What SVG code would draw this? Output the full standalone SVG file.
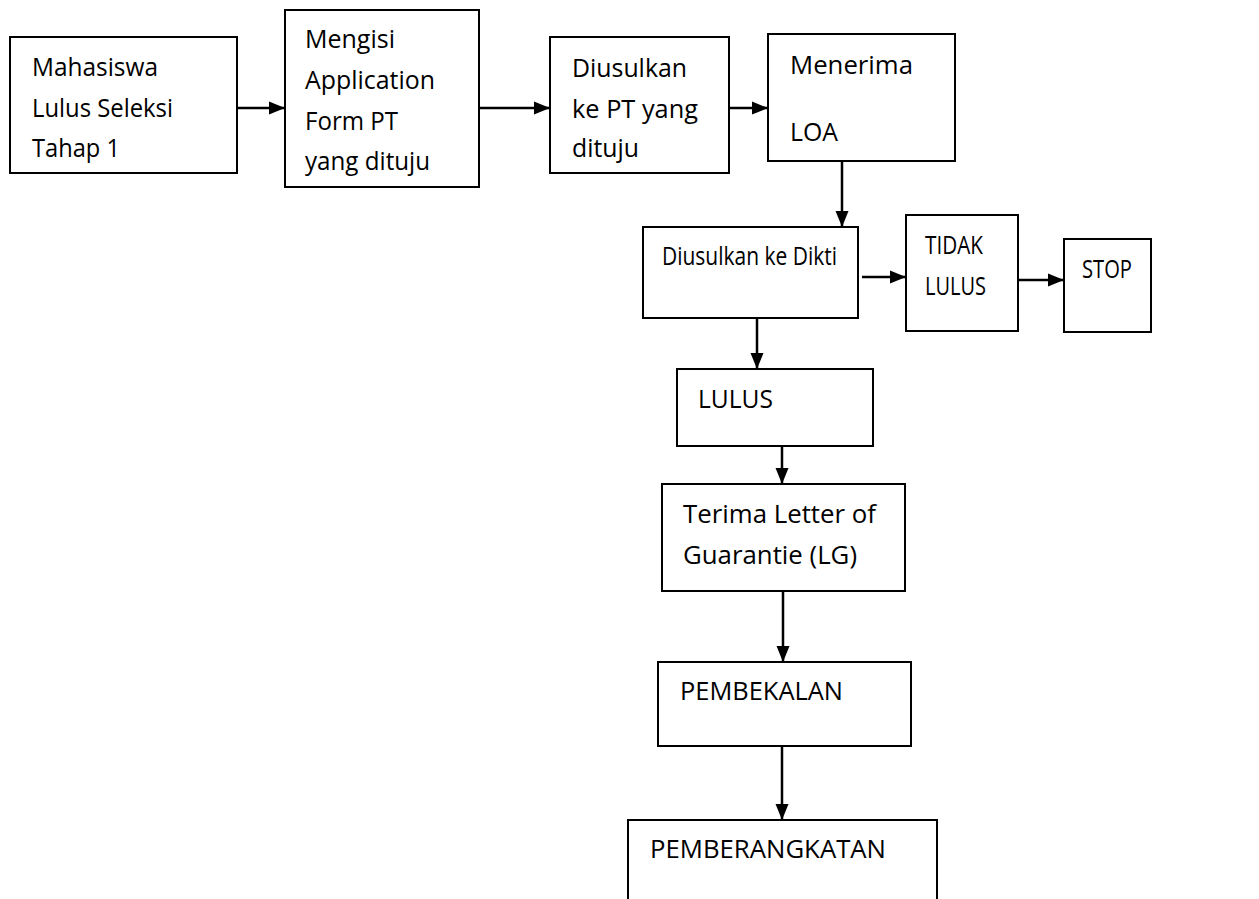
<svg xmlns="http://www.w3.org/2000/svg" width="1259" height="899" viewBox="0 0 1259 899">
<style>
.box{fill:#fff;stroke:#000;stroke-width:2}
.t{font-family:"Open Sans","Liberation Sans",sans-serif;font-size:25px;fill:#000}
.c{stroke:#000;stroke-width:2.5;fill:none;marker-end:url(#ah)}
</style>
<defs>
<marker id="ah" markerUnits="userSpaceOnUse" markerWidth="16" markerHeight="14" viewBox="0 0 16 14" refX="16" refY="7" orient="auto">
<path d="M0,0.5 L16,7 L0,13.5 Z" fill="#000"/>
</marker>
</defs>
<rect width="1259" height="899" fill="#fff"/>
<g id="connectors">
<line class="c" x1="237" y1="108" x2="285" y2="108"/>
<line class="c" x1="479" y1="108" x2="550" y2="108"/>
<line class="c" x1="729" y1="108" x2="768" y2="108"/>
<line class="c" x1="842" y1="161" x2="842" y2="227"/>
<line class="c" x1="862" y1="277" x2="906" y2="277"/>
<line class="c" x1="1018" y1="280" x2="1064" y2="280"/>
<line class="c" x1="757" y1="318" x2="757" y2="369"/>
<line class="c" x1="782" y1="446" x2="782" y2="484"/>
<line class="c" x1="783" y1="591" x2="783" y2="662"/>
<line class="c" x1="782" y1="746" x2="782" y2="820"/>
</g>
<g id="n1"><rect class="box" x="10" y="37" width="227" height="136"/>
<text class="t" x="32" y="76" textLength="126" lengthAdjust="spacingAndGlyphs">Mahasiswa</text><text class="t" x="32" y="117" textLength="141" lengthAdjust="spacingAndGlyphs">Lulus Seleksi</text><text class="t" x="32" y="157" textLength="88" lengthAdjust="spacingAndGlyphs">Tahap 1</text></g>
<g id="n2"><rect class="box" x="285" y="10" width="194" height="177"/>
<text class="t" x="305" y="48" textLength="90" lengthAdjust="spacingAndGlyphs">Mengisi</text><text class="t" x="305" y="89" textLength="130" lengthAdjust="spacingAndGlyphs">Application</text><text class="t" x="305" y="130" textLength="93" lengthAdjust="spacingAndGlyphs">Form PT</text><text class="t" x="305" y="170" textLength="125" lengthAdjust="spacingAndGlyphs">yang dituju</text></g>
<g id="n3"><rect class="box" x="550" y="37" width="179" height="136"/>
<text class="t" x="572" y="77" textLength="115" lengthAdjust="spacingAndGlyphs">Diusulkan</text><text class="t" x="572" y="118" textLength="126" lengthAdjust="spacingAndGlyphs">ke PT yang</text><text class="t" x="572" y="157" textLength="67" lengthAdjust="spacingAndGlyphs">dituju</text></g>
<g id="n4"><rect class="box" x="768" y="34" width="187" height="127"/>
<text class="t" x="790" y="74" textLength="123" lengthAdjust="spacingAndGlyphs">Menerima</text><text class="t" x="790" y="141" textLength="48" lengthAdjust="spacingAndGlyphs">LOA</text></g>
<g id="n5"><rect class="box" x="643" y="227" width="215" height="91"/>
<text class="t" x="662" y="265" textLength="175" lengthAdjust="spacingAndGlyphs">Diusulkan ke Dikti</text></g>
<g id="n6"><rect class="box" x="906" y="215" width="112" height="116"/>
<text class="t" x="925" y="254" textLength="58" lengthAdjust="spacingAndGlyphs">TIDAK</text><text class="t" x="925" y="295" textLength="61" lengthAdjust="spacingAndGlyphs">LULUS</text></g>
<g id="n7"><rect class="box" x="1064" y="239" width="87" height="93"/>
<text class="t" x="1082" y="278" textLength="50" lengthAdjust="spacingAndGlyphs">STOP</text></g>
<g id="n8"><rect class="box" x="677" y="369" width="196" height="77"/>
<text class="t" x="698" y="408" textLength="75" lengthAdjust="spacingAndGlyphs">LULUS</text></g>
<g id="n9"><rect class="box" x="662" y="484" width="243" height="107"/>
<text class="t" x="683" y="523" textLength="193" lengthAdjust="spacingAndGlyphs">Terima Letter of</text><text class="t" x="683" y="564" textLength="174" lengthAdjust="spacingAndGlyphs">Guarantie (LG)</text></g>
<g id="n10"><rect class="box" x="658" y="662" width="253" height="84"/>
<text class="t" x="680" y="700" textLength="163" lengthAdjust="spacingAndGlyphs">PEMBEKALAN</text></g>
<g id="n11"><path class="box" d="M628,905 L628,820 L937,820 L937,905" fill="#fff"/>
<text class="t" x="650" y="858" textLength="236" lengthAdjust="spacingAndGlyphs">PEMBERANGKATAN</text></g>
</svg>
